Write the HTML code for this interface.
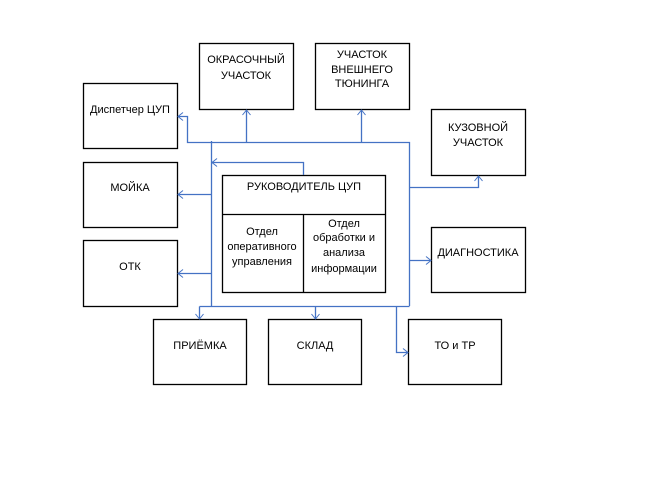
<!DOCTYPE html>
<html><head><meta charset="utf-8"><style>
html,body{margin:0;padding:0;background:#fff}
svg{display:block}
text{font-family:"Liberation Sans",Arial,sans-serif;font-size:11px;fill:#000;text-anchor:middle}
</style></head><body>
<svg width="650" height="504" viewBox="0 0 650 504" xmlns="http://www.w3.org/2000/svg">
<defs>
<marker id="a" markerWidth="10" markerHeight="10" refX="9" refY="5" orient="auto" markerUnits="userSpaceOnUse">
<path d="M4,1 L9,5 L4,9" fill="none" stroke="#4472C4" stroke-width="1"/>
</marker>
</defs>
<g fill="none" stroke="#000" stroke-width="1.3">
<rect x="83.5" y="83.5" width="94" height="65"/>
<rect x="199.5" y="43.5" width="94" height="66"/>
<rect x="315.5" y="43.5" width="94" height="66"/>
<rect x="431.5" y="109.5" width="94" height="66"/>
<rect x="83.5" y="162.5" width="94" height="65"/>
<rect x="83.5" y="240.5" width="94" height="66"/>
<rect x="222.5" y="175.5" width="163" height="117"/>
<line x1="222" y1="214.5" x2="386" y2="214.5"/>
<line x1="303.5" y1="214" x2="303.5" y2="292"/>
<rect x="431.5" y="227.5" width="94" height="65"/>
<rect x="153.5" y="319.5" width="93" height="65"/>
<rect x="268.5" y="319.5" width="93" height="65"/>
<rect x="408.5" y="319.5" width="93" height="65"/>
</g>
<g fill="none" stroke="#4472C4" stroke-width="1.3">
<polyline points="409.5,306 409.5,142.5 187.5,142.5 187.5,116.5 178,116.5" marker-end="url(#a)"/>
<line x1="246.5" y1="142" x2="246.5" y2="110" marker-end="url(#a)"/>
<line x1="361.5" y1="142" x2="361.5" y2="110" marker-end="url(#a)"/>
<line x1="211.5" y1="141" x2="211.5" y2="306.5"/>
<polyline points="303.5,175 303.5,162.5 212,162.5" marker-end="url(#a)"/>
<line x1="211.5" y1="194.5" x2="178" y2="194.5" marker-end="url(#a)"/>
<line x1="211.5" y1="273.5" x2="178" y2="273.5" marker-end="url(#a)"/>
<polyline points="409.5,187.5 478.5,187.5 478.5,176" marker-end="url(#a)"/>
<line x1="409.5" y1="260.5" x2="431" y2="260.5" marker-end="url(#a)"/>
<line x1="199.5" y1="306.5" x2="409.5" y2="306.5"/>
<line x1="199.5" y1="306.5" x2="199.5" y2="319" marker-end="url(#a)"/>
<line x1="315.5" y1="306.5" x2="315.5" y2="319" marker-end="url(#a)"/>
<polyline points="396.5,306.5 396.5,352.5 408,352.5" marker-end="url(#a)"/>
</g>
<text x="130" y="113">Диспетчер ЦУП</text>
<text x="246" y="63">ОКРАСОЧНЫЙ</text>
<text x="246" y="79">УЧАСТОК</text>
<text x="362" y="58">УЧАСТОК</text>
<text x="362" y="73">ВНЕШНЕГО</text>
<text x="362" y="87">ТЮНИНГА</text>
<text x="478" y="131">КУЗОВНОЙ</text>
<text x="478" y="146">УЧАСТОК</text>
<text x="130" y="191">МОЙКА</text>
<text x="130" y="270">ОТК</text>
<text x="304" y="190">РУКОВОДИТЕЛЬ ЦУП</text>
<text x="262" y="235">Отдел</text>
<text x="262" y="250">оперативного</text>
<text x="262" y="265">управления</text>
<text x="344" y="227">Отдел</text>
<text x="344" y="241">обработки и</text>
<text x="344" y="256">анализа</text>
<text x="344" y="272">информации</text>
<text x="478" y="256">ДИАГНОСТИКА</text>
<text x="200" y="349">ПРИЁМКА</text>
<text x="315" y="349">СКЛАД</text>
<text x="455" y="349">ТО и ТР</text>
</svg>
</body></html>
